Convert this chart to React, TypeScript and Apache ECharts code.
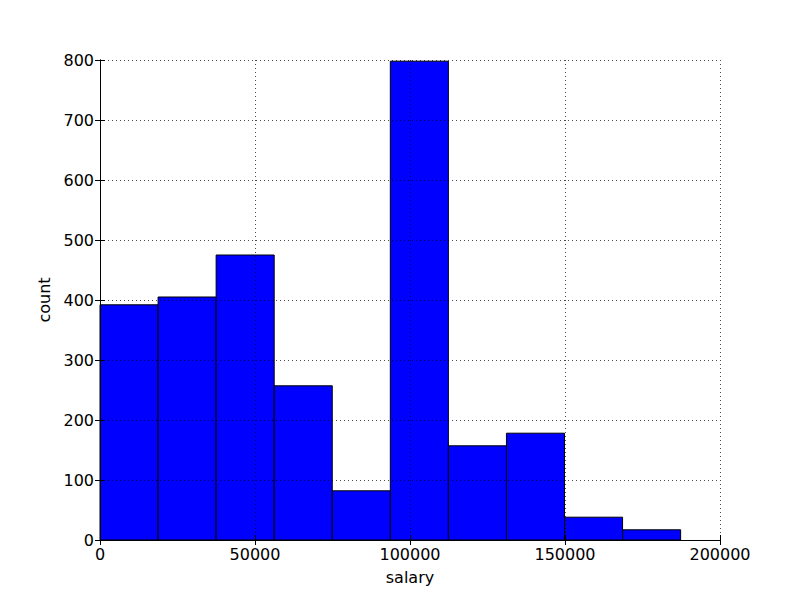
import React, { useEffect, useRef } from "react";
import * as echarts from "echarts";

const binEdges = [0, 18730, 37460, 56190, 74920, 93650, 112380, 131110, 149840, 168570, 187300];
const counts = [392, 405, 475, 257, 82, 798, 157, 178, 38, 17];
const xTicks = [0, 50000, 100000, 150000, 200000];
const yTicks = [0, 100, 200, 300, 400, 500, 600, 700, 800];

const FONT = "DejaVu Sans";

export default function App() {
  const ref = useRef<HTMLDivElement>(null);
  useEffect(() => {
    if (!ref.current) return;
    const chart = echarts.init(ref.current, undefined, { renderer: "svg" });
    const data = counts.map((c, i) => [binEdges[i], binEdges[i + 1], c]);
    const gridLine = { show: true, lineStyle: { color: "#000", width: 0.7, type: [1, 3] as any } };
    const tickStyle = { show: true, inside: true, length: 5, lineStyle: { color: "#000", width: 1 } };
    const fmt = (v: number) => String(v);
    const option: any = {
      animation: false,
      backgroundColor: "#fff",
      grid: { left: 100, right: 80, top: 60, bottom: 60, containLabel: false },
      xAxis: [
        {
          type: "value",
          min: xTicks[0],
          max: xTicks[xTicks.length - 1],
          interval: xTicks[1] - xTicks[0],
          z: 10,
          name: "salary",
          nameLocation: "middle",
          nameGap: 29,
          nameTextStyle: { fontFamily: FONT, fontSize: 16, color: "#000" },
          axisLine: { show: true, lineStyle: { color: "#000", width: 1 } },
          axisTick: tickStyle,
          axisLabel: { fontFamily: FONT, fontSize: 16, color: "#000", margin: 6, formatter: fmt },
          splitLine: gridLine,
        },
        {
          type: "value",
          position: "top",
          min: xTicks[0],
          max: xTicks[xTicks.length - 1],
          interval: xTicks[1] - xTicks[0],
          z: 10,
          axisLine: { show: true, lineStyle: { color: "#000", width: 1 } },
          axisTick: tickStyle,
          axisLabel: { show: false },
          splitLine: { show: false },
        },
      ],
      yAxis: [
        {
          type: "value",
          min: yTicks[0],
          max: yTicks[yTicks.length - 1],
          interval: yTicks[1] - yTicks[0],
          z: 10,
          name: "count",
          nameLocation: "middle",
          nameGap: 44,
          nameRotate: 90,
          nameTextStyle: { fontFamily: FONT, fontSize: 16, color: "#000" },
          axisLine: { show: true, lineStyle: { color: "#000", width: 1 } },
          axisTick: tickStyle,
          axisLabel: { fontFamily: FONT, fontSize: 16, color: "#000", margin: 6, formatter: fmt },
          splitLine: gridLine,
        },
        {
          type: "value",
          position: "right",
          min: yTicks[0],
          max: yTicks[yTicks.length - 1],
          interval: yTicks[1] - yTicks[0],
          z: 10,
          axisLine: { show: true, lineStyle: { color: "#000", width: 1 } },
          axisTick: tickStyle,
          axisLabel: { show: false },
          splitLine: { show: false },
        },
      ],
      series: [
        {
          type: "custom",
          xAxisIndex: 0,
          yAxisIndex: 0,
          data,
          encode: { x: [0, 1], y: 2 },
          renderItem: (params: any, api: any) => {
            const x0 = api.value(0);
            const x1 = api.value(1);
            const y = api.value(2);
            const p0 = api.coord([x0, y]);
            const p1 = api.coord([x1, 0]);
            return {
              type: "rect",
              shape: { x: p0[0], y: p0[1], width: p1[0] - p0[0], height: p1[1] - p0[1] },
              style: { fill: "#0000ff", stroke: "#000", lineWidth: 1 },
            };
          },
        },
      ],
    };
    chart.setOption(option);
    return () => chart.dispose();
  }, []);
  return <div ref={ref} style={{ width: 800, height: 600, position: "absolute", left: 0, top: 0 }} />;
}
